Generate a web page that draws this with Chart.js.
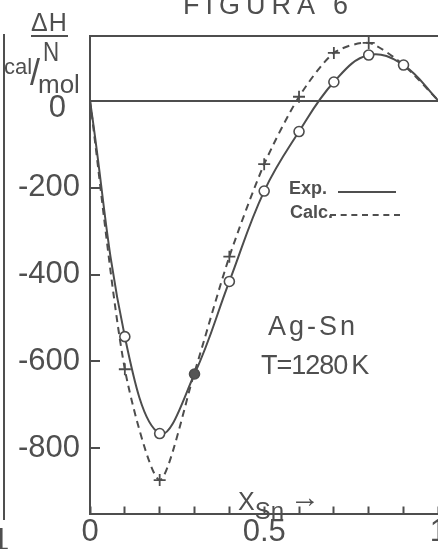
<!DOCTYPE html>
<html><head><meta charset="utf-8">
<script src="https://cdn.jsdelivr.net/npm/chart.js@4"></script>
<style>
html,body{margin:0;padding:0;background:#fff;overflow:hidden;width:438px;height:549px;}
#wrap{position:absolute;left:0;top:0;width:457px;height:549px;}
.t{position:absolute;color:#4f4f4f;font-family:"Liberation Sans",Arial,sans-serif;white-space:nowrap;line-height:1;}
.n{font-family:"DejaVu Sans Condensed","Liberation Sans",sans-serif;}
</style></head><body>
<div id="wrap"><canvas id="c" width="457" height="549"></canvas></div>
<div class="t" style="left:183px;top:-8px;font-size:27px;letter-spacing:6px;">FIGURA 6</div>
<div class="t" style="left:31px;top:10px;font-size:25px;letter-spacing:1px;border-bottom:2px solid #4f4f4f;padding-bottom:0px;">ΔH</div>
<div class="t" style="left:43px;top:38px;font-size:28px;transform:scaleX(0.8);transform-origin:left top;">N</div>
<div class="t" style="left:4px;top:56px;font-size:22px;">cal</div>
<div class="t" style="left:30px;top:55px;font-size:36px;">/</div>
<div class="t" style="left:38px;top:71px;font-size:26px;">mol</div>
<div class="t" style="left:289px;top:179px;font-size:18px;font-weight:bold;">Exp.</div>
<div style="position:absolute;left:338px;top:191px;width:58px;border-top:2px solid #4f4f4f;"></div>
<div class="t" style="left:290px;top:203px;font-size:18px;font-weight:bold;">Calc.</div>
<div style="position:absolute;left:330px;top:214px;width:70px;border-top:2px dashed #4f4f4f;"></div>
<div class="t" style="left:268px;top:313px;font-size:27px;letter-spacing:3px;">Ag-Sn</div>
<div class="t" style="left:261px;top:352px;font-size:27px;letter-spacing:-1px;">T=1280<span style="margin-left:4px;">K</span></div>
<div class="t" style="left:238px;top:485px;font-size:25px;">X<span style="position:relative;top:9px;font-size:24px;">Sn</span><span style="font-size:30px;position:relative;top:-3px;margin-left:6px;">→</span></div>
<div style="position:absolute;left:3px;top:34px;height:486px;border-left:2px solid #4f4f4f;"></div>
<div class="t" style="left:-8px;top:524px;font-size:31px;">1</div>
<script>
const xValues = [0, 0.1, 0.2, 0.3, 0.4, 0.5, 0.6, 0.7, 0.8, 0.9, 1.0];
const expValues = [0, -543, -766, -629, -416, -208, -71, 43, 105, 82, 0];
const calcValues = [0, -618, -873, -625, -359, -146, 9, 110, 133, 82, 0];
const yTickValues = [-800, -600, -400, -200, 0];
const yTickLabels = ['-800', '-600', '-400', '-200', '0'];
const xTickLabels = ['0', '', '', '', '', '0.5', '', '', '', '', '1'];

const ink = '#4d4d4d';
const tickFont = {family: '"Liberation Sans",sans-serif', size: 31, lineHeight: 1};

const zeroLabel = {
  id: 'zeroLabel',
  afterDraw(chart) {
    const ys = chart.scales.y, ctx = chart.ctx;
    ctx.save();
    ctx.font = tickFont.size + 'px ' + tickFont.family;
    ctx.fillStyle = '#4f4f4f';
    ctx.textAlign = 'right';
    ctx.textBaseline = 'middle';
    ctx.fillText(yTickLabels[yTickLabels.length - 1], ys.right - 24, ys.getPixelForValue(0) + 8);
    ctx.restore();
  }
};

new Chart(document.getElementById('c'), {
  type: 'line',
  data: {
    datasets: [
      {
        label: 'Exp.',
        data: xValues.map((x, i) => ({x, y: expValues[i]})),
        borderColor: ink, borderWidth: 2, tension: 0.4,
        pointStyle: 'circle',
        pointRadius: [0, 5, 5, 5, 5, 5, 5, 5, 5, 5, 0],
        pointBackgroundColor: ['#fff', '#fff', '#fff', '#555', '#fff', '#fff', '#fff', '#fff', '#fff', '#fff', '#fff'],
        pointBorderColor: ink, pointBorderWidth: 1.6
      },
      {
        label: 'Calc.',
        data: xValues.map((x, i) => ({x, y: calcValues[i]})),
        borderColor: ink, borderWidth: 2, borderDash: [7, 5], tension: 0.25,
        pointStyle: 'cross',
        pointRadius: [0, 6, 6, 0, 6, 6, 6, 6, 6, 0, 0],
        pointBorderColor: ink, pointBorderWidth: 1.8
      }
    ]
  },
  options: {
    responsive: false, animation: false,
    layout: {padding: {left: 0, right: 0, top: 0, bottom: 0}},
    plugins: {legend: {display: false}, tooltip: {enabled: false}},
    scales: {
      x: {
        type: 'linear', position: 'bottom', min: 0, max: 1,
        afterFit(s) { s.height = 33; },
        afterBuildTicks(s) { s.ticks = xTickLabels.map((_, i) => ({value: i / 10})); },
        ticks: {autoSkip: false, maxRotation: 0, padding: 10, color: '#4f4f4f', font: tickFont,
          callback: (v, i) => xTickLabels[i]},
        grid: {drawOnChartArea: false, drawTicks: true, tickLength: -7, tickWidth: 2, tickColor: ink},
        border: {display: true, color: ink, width: 2}
      },
      xTop: {
        type: 'linear', position: 'top', min: 0, max: 1,
        afterFit(s) { s.height = 35; },
        ticks: {display: false},
        grid: {display: false},
        border: {display: true, color: ink, width: 2}
      },
      y: {
        type: 'linear', position: 'left', min: -950, max: 150,
        afterFit(s) { s.width = 90; },
        afterBuildTicks(s) { s.ticks = yTickValues.map(v => ({value: v})); },
        ticks: {padding: 20, color: '#4f4f4f', font: tickFont,
          callback: (v, i) => (v === 0 ? '' : yTickLabels[i])},
        grid: {drawOnChartArea: true, drawTicks: true, tickLength: -10, tickWidth: 2, tickColor: ink,
          lineWidth: 2, color: ctx => (ctx.tick && ctx.tick.value === 0 ? ink : 'rgba(0,0,0,0)')},
        border: {display: true, color: ink, width: 2}
      }
    }
  },
  plugins: [zeroLabel]
});
</script>
</body></html>
